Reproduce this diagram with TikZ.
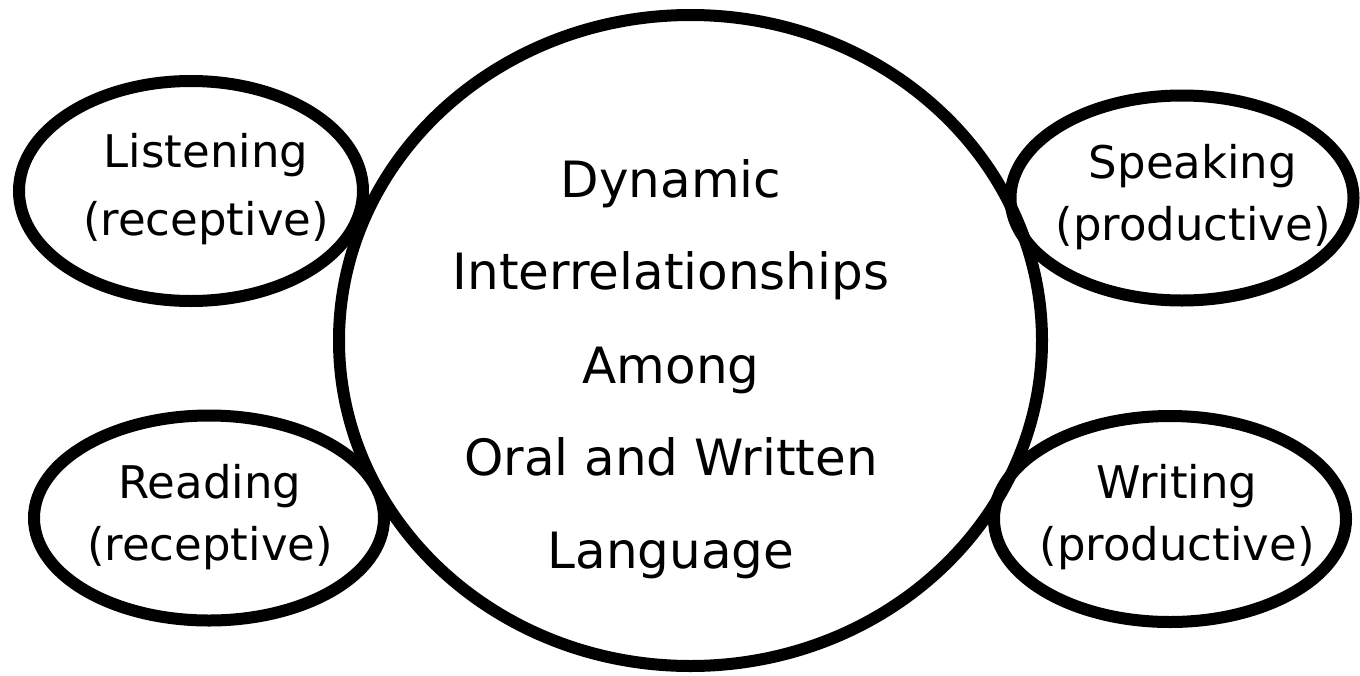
\documentclass[tikz,border=0pt]{standalone}
\usepackage{fontspec}
\setmainfont{DejaVu Sans}
\usetikzlibrary{shapes.geometric}
\tikzset{
  oval/.style={draw=black, line width=12pt, ellipse, inner sep=0pt, outer sep=0pt},
  small/.style={anchor=base, inner sep=0pt, font=\fontsize{45}{54}\selectfont},
  big/.style={anchor=base, inner sep=0pt, font=\fontsize{50}{60}\selectfont}
}
\begin{document}
\begin{tikzpicture}[x=1pt, y=-1pt]
\useasboundingbox (0,0) rectangle (1360,675);
% central circle
\node[oval, minimum width=703pt, minimum height=651pt] (core) at (690.5,340.5) {};
% side ellipses
\node[oval, minimum width=344pt, minimum height=220pt] (listen) at (191,191) {};
\node[oval, minimum width=350pt, minimum height=205pt] (read) at (209,518) {};
\node[oval, minimum width=343pt, minimum height=205pt] (speak) at (1182,198) {};
\node[oval, minimum width=352pt, minimum height=206pt] (write) at (1170,519) {};
% central text
\node[big] (c1) at (671,197) {Dynamic};
\node[big] (c2) at (671,289) {Interrelationships};
\node[big] (c3) at (671,383) {Among};
\node[big] (c4) at (671,475) {Oral and Written};
\node[big] (c5) at (671,568) {Language};
% side texts
\node[small] (l1) at (206,167) {Listening};
\node[small] (l2) at (206,235) {(receptive)};
\node[small] (r1) at (210,498) {Reading};
\node[small] (r2) at (210,560) {(receptive)};
\node[small] (s1) at (1193,178) {Speaking};
\node[small] (s2) at (1193,240) {(productive)};
\node[small] (w1) at (1177,498) {Writing};
\node[small] (w2) at (1177,560) {(productive)};
\end{tikzpicture}
\end{document}
